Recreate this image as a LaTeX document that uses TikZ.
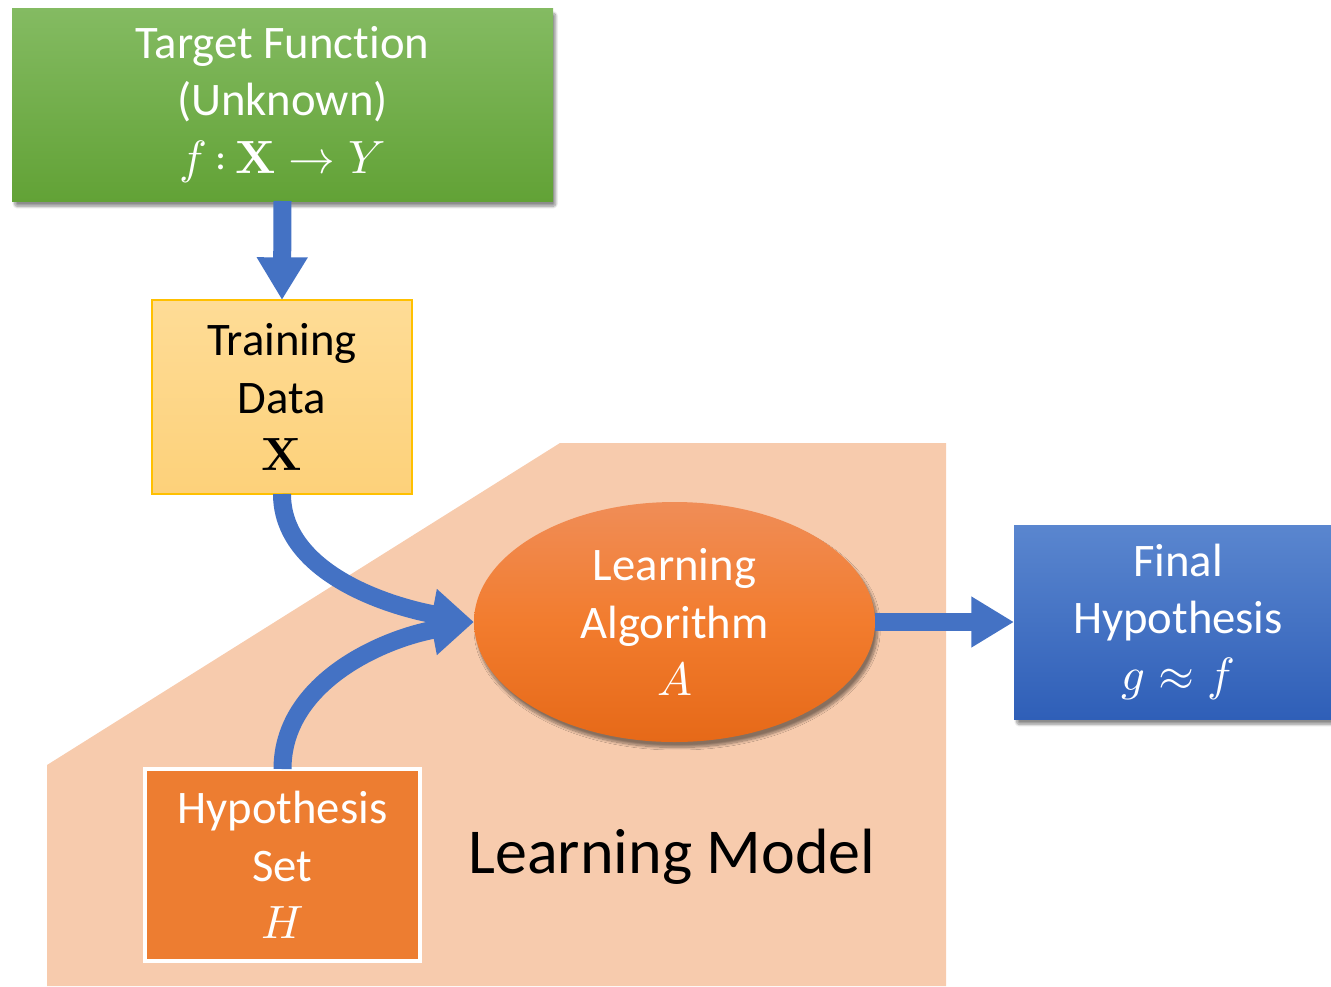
\documentclass[tikz,border=0pt]{standalone}
\usepackage{unicode-math}
\setmainfont{Carlito}[Ligatures=NoCommon]
\setmathfont{Latin Modern Math}
\usetikzlibrary{arrows.meta,shadows.blur,shapes.geometric}
\definecolor{peach}{HTML}{F7CBAD}
\definecolor{arrowblue}{HTML}{4472C4}
\definecolor{gtop}{HTML}{84BB62}
\definecolor{gbot}{HTML}{62A236}
\definecolor{ytop}{HTML}{FEDC96}
\definecolor{ybot}{HTML}{FDD17A}
\definecolor{yborder}{HTML}{FFC000}
\definecolor{otop}{HTML}{F08D57}
\definecolor{omid}{HTML}{F27C2E}
\definecolor{obot}{HTML}{E66918}
\definecolor{btop}{HTML}{5A86CF}
\definecolor{bbot}{HTML}{2F5FB8}
\definecolor{hset}{HTML}{ED7D31}
\tikzset{
  boxtext/.style={align=center, inner sep=0pt, outer sep=0pt, font=\fontsize{35}{43}\selectfont},
  softshadow/.style={blur shadow={shadow blur steps=12, shadow xshift=2pt, shadow yshift=-4pt, shadow blur extra rounding=2pt, shadow opacity=45}},
  flow/.style={draw=arrowblue, line width=13.5pt, -{Triangle[width=36pt,length=32pt]}},
}
\begin{document}
\begin{tikzpicture}[x=0.75pt,y=-0.75pt]
\useasboundingbox (0,0) rectangle (1331,986);
% learning model background
\fill[peach] (47,765) -- (560,443) -- (946,443) -- (946,986) -- (47,986) -- cycle;
% nodes
\node[boxtext, text=white, minimum width=405.75pt, minimum height=144.75pt,
      top color=gtop, bottom color=gbot, softshadow] (tf) at (282.5,104.5)
      {Target Function\\(Unknown)\\$f\,{:}\,\symbf{X}\rightarrow Y$};
\node[boxtext, text=black, minimum width=195pt, minimum height=145.5pt,
      top color=ytop, bottom color=ybot, draw=yborder, line width=0.9pt] (train) at (282,397)
      {Training\\Data\\$\symbf{X}$};
\node[boxtext, ellipse, text=white, minimum width=300.75pt, minimum height=180pt,
      top color=otop, bottom color=obot, middle color=omid, softshadow,
      shading=axis] (alg) at (674.5,622)
      {Learning\\Algorithm\\$A$};
\node[boxtext, text=white, minimum width=246pt, minimum height=145.5pt,
      top color=btop, bottom color=bbot, softshadow] (fh) at (1178,622)
      {Final\\Hypothesis\\$g \approx f$};
\node[boxtext, text=white, minimum width=206pt, minimum height=144pt,
      fill=hset, draw=white, line width=3pt] (hs) at (282.5,865)
      {Hypothesis\\Set\\$H$};
\node[inner sep=0pt, font=\fontsize{48}{58}\selectfont] (lm) at (672,857) {Learning Model};
% connectors
\draw[flow] (tf.south) -- (train.north);
\draw[flow] (alg.east) -- (fh.west);
\draw[flow] (train.south) .. controls +(0,75) and +(-95,-18) .. (alg.west);
\draw[flow] (hs.north) .. controls +(0,-85) and +(-95,18) .. (alg.west);
\end{tikzpicture}
\end{document}
